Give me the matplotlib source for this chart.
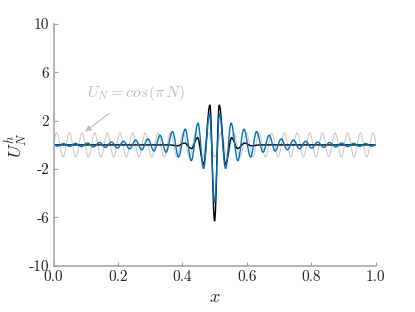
import numpy as np
import matplotlib
matplotlib.use("Agg")
import matplotlib.pyplot as plt
from matplotlib.path import Path
from matplotlib.patches import PathPatch

plt.rcParams['font.family'] = 'serif'
plt.rcParams['font.serif'] = ['cmr10', 'DejaVu Serif']
plt.rcParams['mathtext.fontset'] = 'cm'
plt.rcParams['axes.unicode_minus'] = False

# extrema of each curve (x position, value)
grey_x = [-0.0097, 0.0099, 0.0295, 0.0492, 0.0688, 0.0885, 0.1081, 0.1277, 0.1474,
          0.1670, 0.1867, 0.2063, 0.2259, 0.2456, 0.2652, 0.2849, 0.3045, 0.3241,
          0.3438, 0.3634, 0.3831, 0.4027, 0.4223, 0.4420, 0.4616, 0.4813, 0.5009,
          0.5205, 0.5402, 0.5598, 0.5795, 0.5991, 0.6187, 0.6384, 0.6580, 0.6777,
          0.6973, 0.7169, 0.7366, 0.7562, 0.7759, 0.7955, 0.8151, 0.8348, 0.8544,
          0.8741, 0.8937, 0.9133, 0.9330, 0.9526, 0.9723, 0.9919, 1.0115]
grey_y = [-1, 1, -1, 1, -1, 1, -1, 1, -1, 1, -1, 1, -1, 1, -1, 1, -1, 1,
          -1, 1, -1, 1, -1, 1, -1, 1, -1, 1, -1, 1, -1, 1, -1, 1, -1, 1,
          -1, 1, -1, 1, -1, 1, -1, 1, -1, 1, -1, 1, -1, 1, -1, 1, -1]

blue_x = [0.0, 0.0121, 0.0308, 0.0494, 0.0681, 0.0867, 0.1053, 0.1240, 0.1426,
          0.1613, 0.1799, 0.1986, 0.2172, 0.2362, 0.2551, 0.2741, 0.2930, 0.3120,
          0.3306, 0.3493, 0.3695, 0.3881, 0.4089, 0.4276, 0.4487, 0.4658, 0.4845,
          0.5000, 0.5155, 0.5342, 0.5513, 0.5724, 0.5911, 0.6119, 0.6305, 0.6507,
          0.6694, 0.6880, 0.7070, 0.7259, 0.7449, 0.7638, 0.7828, 0.8014, 0.8201,
          0.8387, 0.8574, 0.8760, 0.8947, 0.9133, 0.9319, 0.9506, 0.9692, 0.9879,
          1.0]
blue_y = [0.0, -0.10, 0.11, -0.12, 0.13, -0.14, 0.16, -0.17, 0.20,
          -0.20, 0.24, -0.26, 0.30, -0.32, 0.40, -0.40, 0.50, -0.50,
          0.80, -0.60, 1.10, -1.00, 1.30, -1.30, 1.80, -1.95, 2.60,
          -4.80, 2.60, -1.95, 1.80, -1.30, 1.30, -1.00, 1.10, -0.60,
          0.80, -0.50, 0.50, -0.40, 0.40, -0.32, 0.30, -0.26, 0.24,
          -0.20, 0.20, -0.17, 0.16, -0.14, 0.13, -0.12, 0.11, -0.10,
          0.0]

black_x = [0.0, 0.36, 0.385, 0.4068, 0.4285, 0.4472, 0.4658, 0.4856, 0.5,
           0.5145, 0.5342, 0.5528, 0.5715, 0.5932, 0.615, 0.64, 1.0]
black_y = [0.0, 0.0, -0.07, 0.15, -0.3, 0.6, -1.6, 3.3, -6.3,
           3.3, -1.6, 0.6, -0.3, 0.15, -0.07, 0.0, 0.0]

xticks = [0.0, 0.2, 0.4, 0.6, 0.8, 1.0]
xtick_labels = ['0.0', '0.2', '0.4', '0.6', '0.8', '1.0']
yticks = [-10, -6, -2, 2, 6, 10]
ytick_labels = ['-10', '-6', '-2', '2', '6', '10']


def wave_path(xs, ys):
    # smooth half-waves between extrema, flat tangent at each extremum
    verts = [(xs[0], ys[0])]
    codes = [Path.MOVETO]
    for i in range(len(xs) - 1):
        d = xs[i + 1] - xs[i]
        c = 0.3634 * d
        verts += [(xs[i] + c, ys[i]), (xs[i + 1] - c, ys[i + 1]), (xs[i + 1], ys[i + 1])]
        codes += [Path.CURVE4] * 3
    return Path(verts, codes)


fig = plt.figure(figsize=(4.15, 3.12), dpi=100)
ax = fig.add_axes([0.129, 0.148, 0.776, 0.775])

ax.add_patch(PathPatch(wave_path(grey_x, grey_y), fill=False, ec='#c8c8c8', lw=0.75))
ax.add_patch(PathPatch(wave_path(black_x, black_y), fill=False, ec='black', lw=1.0))
ax.add_patch(PathPatch(wave_path(blue_x, blue_y), fill=False, ec='#0072BD', lw=1.0))

ax.set_xlim(0, 1)
ax.set_ylim(-10, 10)
ax.set_xticks(xticks, xtick_labels)
ax.set_yticks(yticks, ytick_labels)

for s in ['top', 'right']:
    ax.spines[s].set_visible(False)
for s in ['left', 'bottom']:
    ax.spines[s].set_color('#a0a0a0')
    ax.spines[s].set_linewidth(1.1)
ax.tick_params(direction='in', length=3, width=0.8, color='#a0a0a0',
               labelsize=11, labelcolor='#262626', pad=3)

ax.set_xlabel('$x$', fontsize=13, color='#262626')
ax.set_ylabel('$U_N^h$', fontsize=13, color='#262626')
ax.yaxis.set_label_coords(-0.075, 0.5)

ax.annotate(r'$U_N = cos(\pi\, N)$', xy=(0.098, 1.1), xytext=(0.257, 4.3),
            fontsize=11.5, color='#bdbdbd', ha='center', va='center',
            arrowprops=dict(arrowstyle='-|>', color='#bdbdbd', lw=0.8,
                            shrinkA=9, shrinkB=0, mutation_scale=9))

fig.savefig('out.png', dpi=100)
